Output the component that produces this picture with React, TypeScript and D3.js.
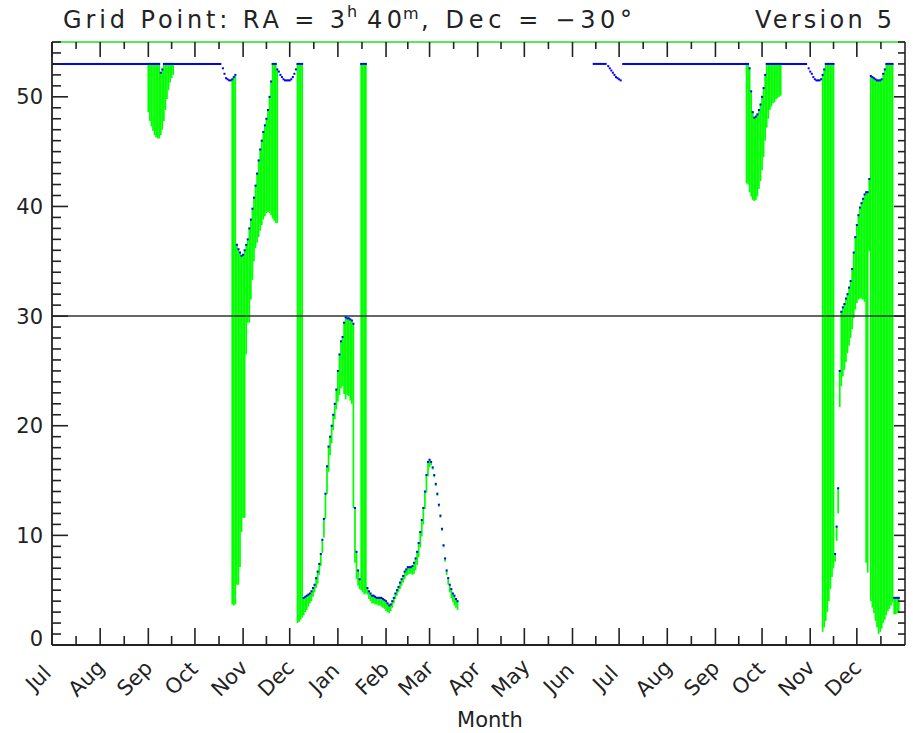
import React from 'react';
import * as d3 from 'd3';

// ---------- data ----------
const START = new Date(2005, 6, 1);
const END = new Date(2007, 0, 1);
const yTickValues = [0, 10, 20, 30, 40, 50];
const refValue = 30;
const plateauLevel = 53;
// day offsets (from Jul 1) where the value stays at the 53 plateau
const plateaus: [number, number][] = [[0, 69], [72, 109], [348, 357], [367, 448], [460, 486]];

// blue-only points [day, value]
const dipOct1: [number, number][] = [[110, 52.6], [111, 52.1], [112, 51.7], [113, 51.6], [114, 51.5], [115, 51.5]];
const dipDec1: [number, number][] = [[146, 52.3], [147, 52.0], [148, 51.8], [149, 51.6], [150, 51.5], [151, 51.5], [152, 51.5], [153, 51.5], [154, 51.6], [155, 51.8], [156, 52.1], [157, 52.5]];
const dipJul2: [number, number][] = [[358, 52.8], [359, 52.6], [360, 52.4], [361, 52.2], [362, 52.0], [363, 51.8], [364, 51.7], [365, 51.6], [366, 51.5]];
const dipNov2: [number, number][] = [[487, 52.6], [488, 52.3], [489, 52.1], [490, 51.8], [491, 51.6], [492, 51.5], [493, 51.5], [494, 51.5], [495, 51.6]];

// range bars [day, high (blue point), low]
const barsSep1: [number, number, number][] = [
  [62, 53, 48.6], [63, 53, 47.8], [64, 53, 47.3], [65, 53, 46.9], [66, 53, 46.5], [67, 53, 46.3], [68, 53, 46.2],
  [69, 53, 46.2], [70, 52.2, 46.5], [71, 52.5, 47.0], [72, 53, 47.8], [73, 53, 48.8], [74, 53, 49.8], [75, 53, 50.6],
  [76, 53, 51.3], [77, 53, 51.7], [78, 53, 52.0],
];
const barsNov1: [number, number, number][] = [
  [116, 51.6, 3.7], [117, 51.8, 3.6], [118, 52.0, 3.7], [119, 36.5, 5.5], [120, 36.1, 5.5], [121, 35.8, 7.1],
  [122, 35.5, 10.3], [123, 35.6, 11.6], [124, 36.0, 11.6], [125, 36.5, 26.5], [126, 37.0, 29.4], [127, 38.0, 29.4],
  [128, 38.8, 31.5], [129, 39.8, 33.3], [130, 40.8, 35.0], [131, 41.9, 36.2], [132, 43.0, 36.7], [133, 44.2, 37.2],
  [134, 45.2, 37.8], [135, 46.0, 38.3], [136, 46.8, 38.8], [137, 47.4, 39.1], [138, 48.0, 39.4], [139, 48.8, 39.5],
  [140, 50.0, 39.4], [141, 51.4, 39.2], [142, 53, 38.9], [143, 53, 38.7], [144, 53, 38.5], [145, 52.5, 38.5],
];
const barsJan1: [number, number, number][] = [
  [158, 53, 2.0], [159, 53, 2.1], [160, 53, 2.3], [161, 53, 2.5], [162, 4.3, 2.7], [163, 4.4, 3.0], [164, 4.5, 3.2],
  [165, 4.6, 3.5], [166, 4.7, 3.8], [167, 4.9, 4.0], [168, 5.2, 4.4], [169, 5.5, 4.8], [170, 6.1, 5.2], [171, 6.7, 5.6],
  [172, 7.4, 6.4], [173, 8.3, 7.2], [174, 9.6, 8.4], [175, 11.5, 9.8], [176, 13.8, 11.5], [177, 16.3, 13.8],
  [178, 18.1, 15.8], [179, 19.0, 17.3], [180, 20.0, 18.4], [181, 21.0, 19.6], [182, 22.0, 20.6], [183, 23.3, 21.5],
  [184, 25.0, 22.2], [185, 26.5, 22.8], [186, 27.7, 23.4], [187, 28.1, 23.6], [188, 29.4, 22.9], [189, 29.9, 22.4],
  [190, 29.8, 22.8], [191, 29.8, 22.7], [192, 29.7, 22.3], [193, 29.6, 22.0], [194, 29.3, 12.5], [195, 12.5, 7.5],
  [196, 8.5, 6.0], [197, 6.8, 5.4], [198, 6.0, 5.1], [199, 53, 5.0], [200, 53, 4.8], [201, 53, 4.6], [202, 53, 4.7],
];
const barsMar1: [number, number, number][] = [
  [203, 5.2, 4.6], [204, 4.9, 4.2], [205, 4.7, 4.0], [206, 4.5, 3.8], [207, 4.5, 3.8], [208, 4.4, 3.7], [209, 4.3, 3.7],
  [210, 4.3, 3.6], [211, 4.3, 3.6], [212, 4.3, 3.5], [213, 4.2, 3.4], [214, 4.1, 3.3], [215, 4.0, 3.1], [216, 3.8, 3.0],
  [217, 3.6, 2.9], [218, 3.7, 3.1], [219, 4.0, 3.4], [220, 4.3, 3.8], [221, 4.7, 4.2], [222, 5.0, 4.5], [223, 5.3, 4.8],
  [224, 5.7, 5.1], [225, 6.0, 5.4], [226, 6.3, 5.7], [227, 6.7, 6.0], [228, 6.9, 6.3], [229, 7.1, 6.4], [230, 7.1, 6.5],
  [231, 7.1, 6.5], [232, 7.2, 6.4], [233, 7.5, 6.5], [234, 7.9, 6.8], [235, 8.5, 7.3], [236, 9.3, 8.0], [237, 10.3, 8.9],
  [238, 11.4, 9.9], [239, 12.5, 11.0], [240, 14.0, 12.4], [241, 15.5, 13.9], [242, 16.7, 15.4], [243, 16.9, 16.2],
  [244, 16.7, 16.4], [245, 16.2, 16.0], [246, 15.5, 15.3], [247, 14.7, 14.5], [248, 13.8, 13.6], [249, 12.8, 12.6],
  [250, 11.8, 11.6], [251, 10.6, 10.4], [252, 9.1, 8.9], [253, 7.9, 7.6], [254, 6.8, 6.4], [255, 6.1, 5.5],
  [256, 5.5, 4.8], [257, 5.1, 4.3], [258, 4.7, 3.9], [259, 4.5, 3.6], [260, 4.2, 3.4], [261, 4.0, 3.2],
];
const barsOct2: [number, number, number][] = [
  [447, 53, 42.1], [448, 53, 42.0], [449, 52.6, 41.3], [450, 50.5, 40.9], [451, 48.6, 40.6], [452, 48.1, 40.5],
  [453, 48.2, 40.6], [454, 48.4, 40.9], [455, 48.8, 41.6], [456, 49.3, 42.3], [457, 50.0, 43.3], [458, 50.8, 44.5],
  [459, 52.0, 46.0], [460, 53, 47.2], [461, 53, 48.0], [462, 53, 48.8], [463, 53, 49.1], [464, 53, 49.4],
  [465, 53, 49.5], [466, 53, 49.8], [467, 53, 49.9], [468, 53, 50.0], [469, 53, 50.1],
];
const barsDec2: [number, number, number][] = [
  [496, 52.0, 1.2], [497, 52.5, 1.6], [498, 53, 2.2], [499, 53, 3.0], [500, 53, 4.0], [501, 53, 5.1], [502, 53, 6.2],
  [503, 53, 7.0], [504, 8.3, 7.6], [505, 10.8, 9.5], [506, 14.3, 12.0], [507, 25.0, 21.7], [508, 30.4, 23.6],
  [509, 30.8, 24.5], [510, 31.1, 25.1], [511, 31.6, 25.8], [512, 32.0, 26.6], [513, 32.6, 27.3], [514, 33.2, 28.0],
  [515, 34.3, 28.8], [516, 35.8, 29.8], [517, 37.2, 30.6], [518, 38.3, 31.2], [519, 39.2, 31.5], [520, 39.9, 31.6],
  [521, 40.3, 31.6], [522, 40.7, 31.5], [523, 41.1, 31.3], [524, 41.3, 7.5], [525, 41.3, 6.6], [526, 42.5, 35.9],
  [527, 51.9, 4.0], [528, 51.8, 3.4], [529, 51.7, 2.9], [530, 51.6, 2.2], [531, 51.5, 1.6], [532, 51.5, 1.0],
  [533, 51.5, 1.2], [534, 51.6, 1.5], [535, 52.1, 2.0], [536, 52.5, 2.3], [537, 53, 2.7], [538, 53, 3.1],
  [539, 53, 3.3], [540, 53, 3.6], [541, 53, 3.9], [542, 4.3, 2.8], [543, 4.3, 2.8], [544, 4.3, 2.9], [545, 4.3, 3.0],
];

const allBars = [barsSep1, barsNov1, barsJan1, barsMar1, barsOct2, barsDec2];
const allDips = [dipOct1, dipDec1, dipJul2, dipNov2];

// ---------- layout ----------
const W = 913, H = 733;
const L = 52, R = 905, T = 42, B = 645;
const FONT = '"DejaVu Sans", sans-serif';

export default function App() {
  const xs = d3.scaleTime().domain([START, END]).range([L, R]);
  const ys = d3.scaleLinear().domain([0, 55]).range([B, T]);
  const dayX = (d: number) => xs(d3.timeDay.offset(START, d));
  const bw = xs(d3.timeDay.offset(START, 1)) - xs(START) + 0.15;

  const months = d3.timeMonth.range(START, END);
  const monthEdges = d3.timeMonth.range(START, d3.timeDay.offset(END, 1));
  const minorX = months.map((m, i) => (xs(m) + xs(monthEdges[i + 1])) / 2);
  const yMinor = d3.range(0, 56, 1);
  const fmt = d3.timeFormat('%b');

  const plateauLine = d3.line<number>().x((d) => dayX(d)).y(() => ys(plateauLevel));

  return (
    <svg width={W} height={H} style={{ position: 'absolute', left: 0, top: 0, background: '#fff', display: 'block' }}
      fontFamily={FONT}>
      <rect x={0} y={0} width={W} height={H} fill="#fff" />
      {/* title */}
      <text x={63} y={28} fontSize={24} textLength={282} lengthAdjust="spacing" fill="#222">Grid Point: RA = 3</text>
      <text x={347} y={17} fontSize={16} fill="#222">h</text>
      <text x={367} y={28} fontSize={24} textLength={35} lengthAdjust="spacing" fill="#222">40</text>
      <text x={403} y={19} fontSize={16} fill="#222">m</text>
      <text x={421} y={28} fontSize={24} textLength={211} lengthAdjust="spacing" fill="#222">, Dec = −30°</text>
      <text x={755} y={28} fontSize={24} textLength={137} lengthAdjust="spacing" fill="#222">Version 5</text>

      {/* green range bars */}
      {allBars.flat().map(([d, hi, lo], i) => (
        <rect key={'b' + i} x={dayX(d) - bw / 2} y={ys(hi)} width={bw} height={Math.max(0.8, ys(lo) - ys(hi))} fill="#00ff00" />
      ))}

      {/* reference line */}
      <line x1={L} x2={R} y1={ys(refValue)} y2={ys(refValue)} stroke="#333" strokeWidth={1.5} />

      {/* blue plateau runs */}
      {plateaus.map(([a, b], i) => (
        <path key={'p' + i} d={plateauLine([a, b]) || ''} stroke="#0000ff" strokeWidth={2} fill="none" />
      ))}
      {/* blue points */}
      {allBars.flat().map(([d, hi], i) => (
        <rect key={'d' + i} x={dayX(d) - 1} y={ys(hi) - 1} width={2} height={2} fill="#0000ff" />
      ))}
      {allDips.flat().map(([d, v], i) => (
        <rect key={'q' + i} x={dayX(d) - 1} y={ys(v) - 1} width={2} height={2} fill="#0000ff" />
      ))}

      {/* frame */}
      <line x1={L} x2={R} y1={T} y2={T} stroke="#22e022" strokeWidth={1.6} />
      <line x1={L} x2={L} y1={T} y2={B} stroke="#222" strokeWidth={1.8} />
      <line x1={R} x2={R} y1={T} y2={B} stroke="#222" strokeWidth={1.6} />
      <line x1={L} x2={R} y1={B} y2={B} stroke="#222" strokeWidth={1.8} />

      {/* x ticks */}
      {months.map((m, i) => (
        <g key={'xm' + i}>
          <line x1={xs(m)} x2={xs(m)} y1={B} y2={B - 17} stroke="#222" strokeWidth={1.6} />
          <line x1={xs(m)} x2={xs(m)} y1={T} y2={T + 15} stroke="#222" strokeWidth={1.6} />
        </g>
      ))}
      {minorX.map((x, i) => (
        <g key={'xn' + i}>
          <line x1={x} x2={x} y1={B} y2={B - 9} stroke="#222" strokeWidth={1.6} />
          <line x1={x} x2={x} y1={T} y2={T + 7} stroke="#222" strokeWidth={1.6} />
        </g>
      ))}
      {/* y ticks */}
      {yMinor.map((v) => {
        const major = v % 10 === 0;
        return (
          <g key={'y' + v}>
            <line x1={L} x2={L + (major ? 16 : 9)} y1={ys(v)} y2={ys(v)} stroke="#222" strokeWidth={1.6} />
            <line x1={R} x2={R - (major ? 11 : 7)} y1={ys(v)} y2={ys(v)} stroke="#222" strokeWidth={1.6} />
          </g>
        );
      })}
      {yTickValues.map((v) => (
        <text key={'yl' + v} x={43} y={ys(v) - (v === 0 ? 7 : 0)} dy="0.36em" textAnchor="end" fontSize={21} fill="#222">{v}</text>
      ))}
      {/* month labels */}
      {months.map((m, i) => (
        <text key={'ml' + i} transform={`translate(${xs(m) - 14},${678}) rotate(-45)`} textAnchor="middle" dy="0.36em"
          fontSize={21} fill="#222">{fmt(m)}</text>
      ))}
      <text x={490} y={727} textAnchor="middle" fontSize={21} fill="#222">Month</text>
    </svg>
  );
}
